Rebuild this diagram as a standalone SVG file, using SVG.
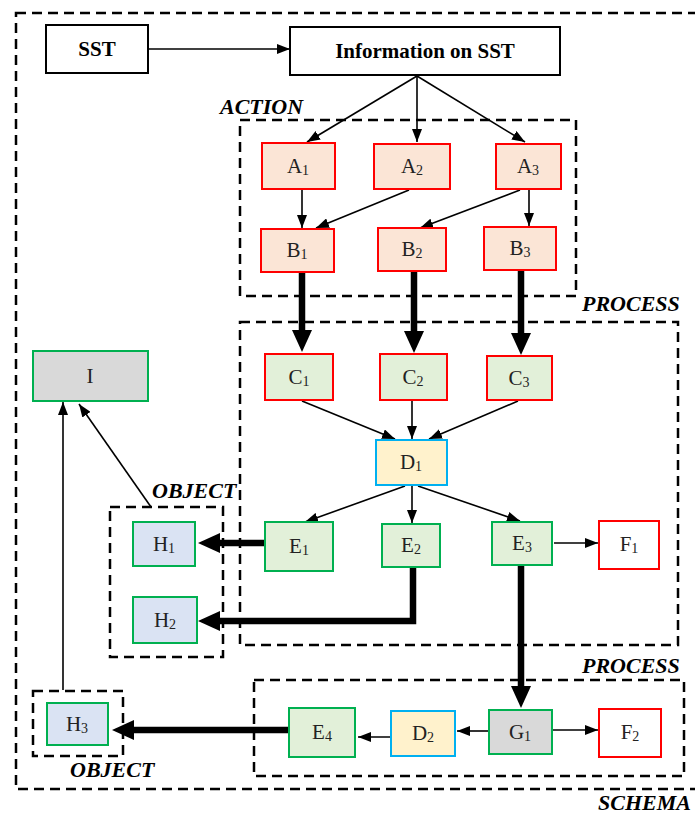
<svg xmlns="http://www.w3.org/2000/svg" width="695" height="814" viewBox="0 0 695 814">
<style>
.bg{fill:#fff}
.dash{fill:none;stroke:#000;stroke-width:2.5;stroke-dasharray:10 6}
.lbl{font-family:"Liberation Serif",serif;font-weight:bold;font-style:italic;font-size:22px;fill:#000}
.t{font-family:"Liberation Serif",serif;font-size:21px;fill:#222;text-anchor:middle}
.tb{font-family:"Liberation Serif",serif;font-size:21px;font-weight:bold;fill:#000;text-anchor:middle}
.s{font-size:14px}
.plain{fill:#fff;stroke:#000;stroke-width:2}
.act{fill:#fbe5d6;stroke:#ff0000;stroke-width:2}
.cr{fill:#e2f0d9;stroke:#ff0000;stroke-width:2}
.eg{fill:#e2f0d9;stroke:#00b050;stroke-width:2}
.dy{fill:#fff2cc;stroke:#00b0f0;stroke-width:2}
.fr{fill:#fff;stroke:#ff0000;stroke-width:2}
.gr{fill:#d9d9d9;stroke:#00b050;stroke-width:2}
.hb{fill:#dae3f3;stroke:#00b050;stroke-width:2}
.thin{fill:none;stroke:#000;stroke-width:1.6;marker-end:url(#ah)}
.thick{fill:none;stroke:#000;stroke-width:6.5;stroke-linejoin:miter;marker-end:url(#aT)}
</style>
<defs>
<marker id="ah" markerWidth="13" markerHeight="10" refX="13" refY="5" orient="auto" markerUnits="userSpaceOnUse"><path d="M0,0 L13,5 L0,10 z" fill="#000"/></marker>
<marker id="aT" markerWidth="22" markerHeight="20" refX="12" refY="10" orient="auto" markerUnits="userSpaceOnUse"><path d="M0,0 L22,10 L0,20 z" fill="#000"/></marker>
</defs>
<rect class="bg" x="0" y="0" width="695" height="814"/>

<g id="containers">
<rect class="dash" x="16" y="13" width="690" height="776"/>
<text class="lbl" x="598" y="810">SCHEMA</text>
<rect class="dash" x="240" y="120" width="336" height="176"/>
<text class="lbl" x="220" y="114">ACTION</text>
<rect class="dash" x="240" y="322" width="438" height="323"/>
<text class="lbl" x="582" y="311">PROCESS</text>
<rect class="dash" x="254" y="680" width="430" height="96"/>
<text class="lbl" x="582" y="673">PROCESS</text>
<rect class="dash" x="110" y="507" width="113" height="150"/>
<text class="lbl" x="152" y="498">OBJECT</text>
<rect class="dash" x="33" y="691" width="90" height="65"/>
<text class="lbl" x="70" y="777">OBJECT</text>
</g>

<g id="connectors">
<path class="thin" d="M148,49 H290"/>
<path class="thin" d="M417,76 L307,142"/>
<path class="thin" d="M417,76 V142"/>
<path class="thin" d="M417,76 L525,142"/>
<path class="thin" d="M302,190 V228"/>
<path class="thin" d="M409,190 L316,228"/>
<path class="thin" d="M520,190 L420,228"/>
<path class="thin" d="M529,190 V226"/>
<path class="thin" d="M302,401 L395,439"/>
<path class="thin" d="M412,401 V439"/>
<path class="thin" d="M518,401 L429,439"/>
<path class="thin" d="M405,486 L305,522"/>
<path class="thin" d="M412,486 V523"/>
<path class="thin" d="M418,486 L520,521"/>
<path class="thin" d="M554,543 H598"/>
<path class="thin" d="M151,507 L79,404"/>
<path class="thin" d="M63,690 V402"/>
<path class="thin" d="M552,730 H598"/>
<path class="thin" d="M489,731 H457"/>
<path class="thin" d="M391,737 H358"/>
<path class="thick" d="M302,272 V342"/>
<path class="thick" d="M414,272 V343"/>
<path class="thick" d="M521,270 V345"/>
<path class="thick" d="M265,543 H208"/>
<path class="thick" d="M413,568 V621 H208"/>
<path class="thick" d="M521,566 V698"/>
<path class="thick" d="M289,730 H122"/>
</g>

<g id="SST"><rect class="plain" x="46" y="25" width="102" height="48"/><text class="tb" x="97" y="56">SST</text></g>
<g id="INFO"><rect class="plain" x="290" y="27" width="270" height="48"/><text class="tb" x="425" y="58">Information on SST</text></g>

<g id="A1"><rect class="act" x="262" y="143" width="73" height="46"/><text class="t" x="298" y="173">A<tspan class="s" dy="2">1</tspan></text></g>
<g id="A2"><rect class="act" x="374" y="144" width="76" height="45"/><text class="t" x="412" y="173">A<tspan class="s" dy="2">2</tspan></text></g>
<g id="A3"><rect class="act" x="496" y="144" width="65" height="45"/><text class="t" x="528" y="173">A<tspan class="s" dy="2">3</tspan></text></g>
<g id="B1"><rect class="act" x="261" y="229" width="73" height="43"/><text class="t" x="297" y="257">B<tspan class="s" dy="2">1</tspan></text></g>
<g id="B2"><rect class="act" x="378" y="228" width="68" height="43"/><text class="t" x="412" y="256">B<tspan class="s" dy="2">2</tspan></text></g>
<g id="B3"><rect class="act" x="484" y="227" width="72" height="43"/><text class="t" x="520" y="255">B<tspan class="s" dy="2">3</tspan></text></g>

<g id="C1"><rect class="cr" x="265" y="354" width="68" height="46"/><text class="t" x="299" y="384">C<tspan class="s" dy="2">1</tspan></text></g>
<g id="C2"><rect class="cr" x="380" y="354" width="67" height="46"/><text class="t" x="413" y="384">C<tspan class="s" dy="2">2</tspan></text></g>
<g id="C3"><rect class="cr" x="487" y="356" width="65" height="44"/><text class="t" x="519" y="385">C<tspan class="s" dy="2">3</tspan></text></g>

<g id="D1"><rect class="dy" x="376" y="440" width="71" height="45"/><text class="t" x="411" y="469">D<tspan class="s" dy="2">1</tspan></text></g>

<g id="E1"><rect class="eg" x="265" y="522" width="68" height="49"/><text class="t" x="299" y="553">E<tspan class="s" dy="2">1</tspan></text></g>
<g id="E2"><rect class="eg" x="382" y="524" width="58" height="43"/><text class="t" x="411" y="552">E<tspan class="s" dy="2">2</tspan></text></g>
<g id="E3"><rect class="eg" x="492" y="522" width="60" height="43"/><text class="t" x="522" y="550">E<tspan class="s" dy="2">3</tspan></text></g>
<g id="F1"><rect class="fr" x="599" y="521" width="60" height="48"/><text class="t" x="629" y="551">F<tspan class="s" dy="2">1</tspan></text></g>

<g id="I"><rect class="gr" x="33" y="351" width="115" height="50"/><text class="t" x="90" y="383">I</text></g>
<g id="H1"><rect class="hb" x="133" y="522" width="62" height="44"/><text class="t" x="164" y="551">H<tspan class="s" dy="2">1</tspan></text></g>
<g id="H2"><rect class="hb" x="133" y="597" width="64" height="46"/><text class="t" x="165" y="627">H<tspan class="s" dy="2">2</tspan></text></g>
<g id="H3"><rect class="hb" x="47" y="703" width="61" height="42"/><text class="t" x="77" y="731">H<tspan class="s" dy="2">3</tspan></text></g>

<g id="G1"><rect class="gr" x="489" y="710" width="63" height="44"/><text class="t" x="520" y="739">G<tspan class="s" dy="2">1</tspan></text></g>
<g id="F2"><rect class="fr" x="599" y="709" width="62" height="48"/><text class="t" x="630" y="739">F<tspan class="s" dy="2">2</tspan></text></g>
<g id="D2"><rect class="dy" x="391" y="711" width="64" height="45"/><text class="t" x="423" y="740">D<tspan class="s" dy="2">2</tspan></text></g>
<g id="E4"><rect class="eg" x="289" y="708" width="66" height="49"/><text class="t" x="322" y="739">E<tspan class="s" dy="2">4</tspan></text></g>
</svg>
